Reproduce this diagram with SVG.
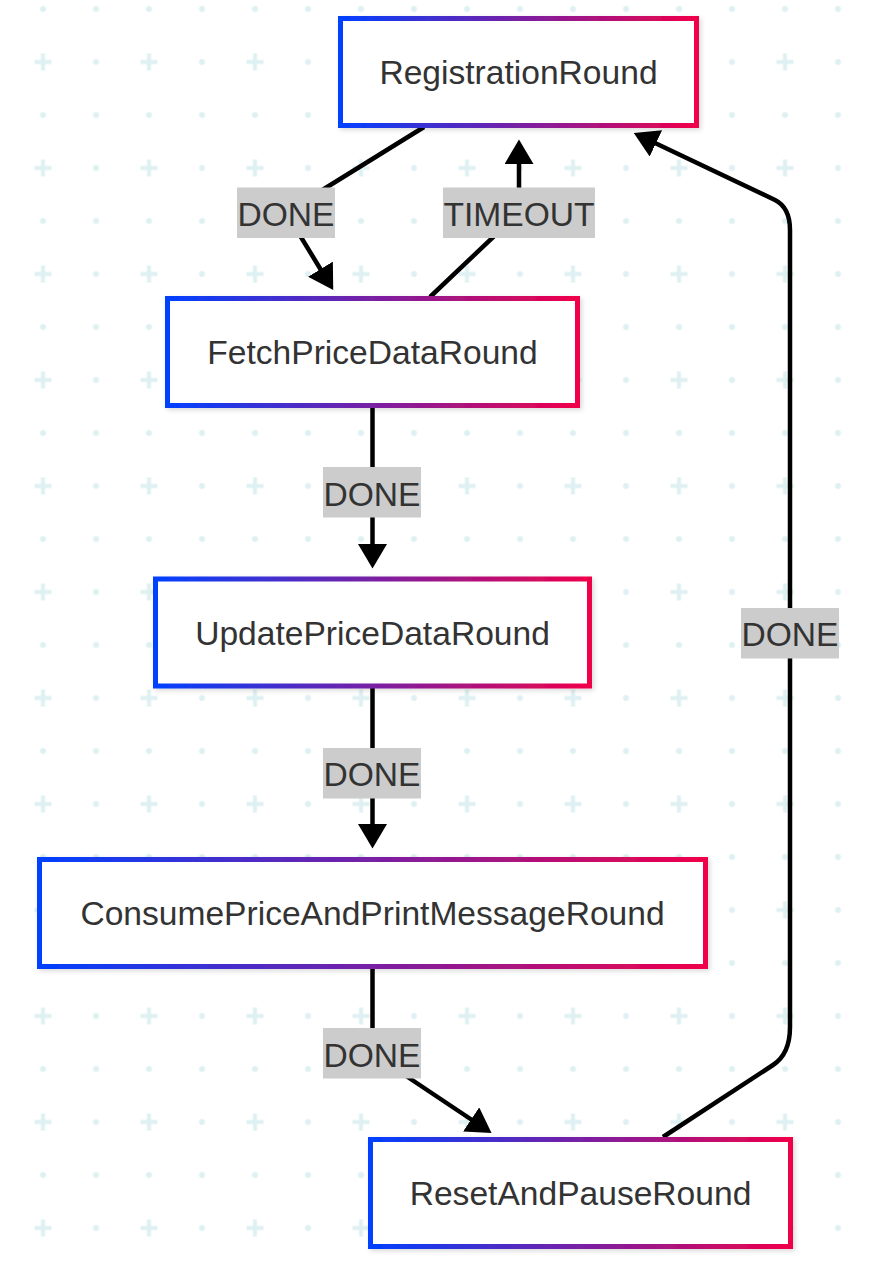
<svg xmlns="http://www.w3.org/2000/svg" width="870" height="1262" viewBox="0 0 870 1262">
  <style>
    .node rect { fill: #ffffff; stroke: url(#border); stroke-width: 5; filter: url(#shadow); }
    .node text { font-family: "Liberation Sans", Arial, sans-serif; font-size: 33.6px; fill: #333333; text-anchor: middle; }
    .edge { fill: none; stroke: #000000; stroke-width: 4.5; stroke-linejoin: round; marker-end: url(#arrow); }
    .label rect { fill: #cccccc; }
    .label text { font-family: "Liberation Sans", Arial, sans-serif; font-size: 33.6px; fill: #333333; text-anchor: middle; }
    .bgmark { fill: #def0f2; }
  </style>
  <defs>
    <linearGradient id="border" x1="0" y1="0" x2="1" y2="0">
      <stop offset="0" stop-color="#0040ff"/>
      <stop offset="1" stop-color="#f0004a"/>
    </linearGradient>
    <filter id="shadow" x="-10%" y="-20%" width="120%" height="150%">
      <feDropShadow dx="2" dy="2" stdDeviation="2.5" flood-color="#000000" flood-opacity="0.15"/>
    </filter>
    <pattern id="grid" patternUnits="userSpaceOnUse" x="16.5" y="35.5" width="106" height="106">
      <rect class="bgmark" x="18" y="24.5" width="17" height="4"/>
      <rect class="bgmark" x="24.5" y="18" width="4" height="17"/>
      <circle class="bgmark" cx="79.5" cy="26.5" r="3"/>
      <circle class="bgmark" cx="26.5" cy="79.5" r="3"/>
      <circle class="bgmark" cx="79.5" cy="79.5" r="3"/>
    </pattern>
    <marker id="arrow" markerUnits="userSpaceOnUse" markerWidth="26" markerHeight="30" refX="1" refY="14.5" orient="auto">
      <path d="M0,0 L24.5,14.5 L0,29 Z" fill="#000000"/>
    </marker>
  </defs>

  <rect x="0" y="0" width="870" height="1262" fill="#ffffff"/>
  <rect x="0" y="0" width="870" height="1262" fill="url(#grid)"/>

  <g id="connectors">
    <path class="edge" d="M424,127 L286,212.5 L321,270"/>
    <path class="edge" d="M430,297 L519,212.5 L519,163"/>
    <path class="edge" d="M372.5,408 L372.5,545"/>
    <path class="edge" d="M372.5,688 L372.5,825"/>
    <path class="edge" d="M372.5,968 L372.5,1053.5 L472,1120"/>
    <path class="edge" d="M663,1137 L773,1065 Q790,1054 790,1027 L790,230 Q790,207.5 775,200 L655,143"/>
  </g>

  <g id="edge-labels">
    <g class="label"><rect x="237" y="187.5" width="98" height="50.5"/><text x="286" y="225.5">DONE</text></g>
    <g class="label"><rect x="443" y="187.5" width="152" height="50.5"/><text x="519" y="225.5">TIMEOUT</text></g>
    <g class="label"><rect x="323" y="467" width="98" height="50.5"/><text x="372" y="505.5">DONE</text></g>
    <g class="label"><rect x="323" y="748" width="98" height="50.5"/><text x="372" y="786">DONE</text></g>
    <g class="label"><rect x="323" y="1028" width="98" height="50.5"/><text x="372" y="1066.5">DONE</text></g>
    <g class="label"><rect x="741" y="608" width="98" height="50.5"/><text x="790" y="646">DONE</text></g>
  </g>

  <g id="RegistrationRound" class="node">
    <rect x="340.5" y="18.5" width="356" height="107"/>
    <text x="518.5" y="84">RegistrationRound</text>
  </g>
  <g id="FetchPriceDataRound" class="node">
    <rect x="167.5" y="298.5" width="410" height="107"/>
    <text x="372.5" y="364">FetchPriceDataRound</text>
  </g>
  <g id="UpdatePriceDataRound" class="node">
    <rect x="155.5" y="579" width="434" height="107"/>
    <text x="372.5" y="644.5">UpdatePriceDataRound</text>
  </g>
  <g id="ConsumePriceAndPrintMessageRound" class="node">
    <rect x="39.5" y="859.5" width="666" height="107"/>
    <text x="372.5" y="925">ConsumePriceAndPrintMessageRound</text>
  </g>
  <g id="ResetAndPauseRound" class="node">
    <rect x="370.5" y="1139.5" width="420" height="107"/>
    <text x="580.5" y="1205">ResetAndPauseRound</text>
  </g>
</svg>
